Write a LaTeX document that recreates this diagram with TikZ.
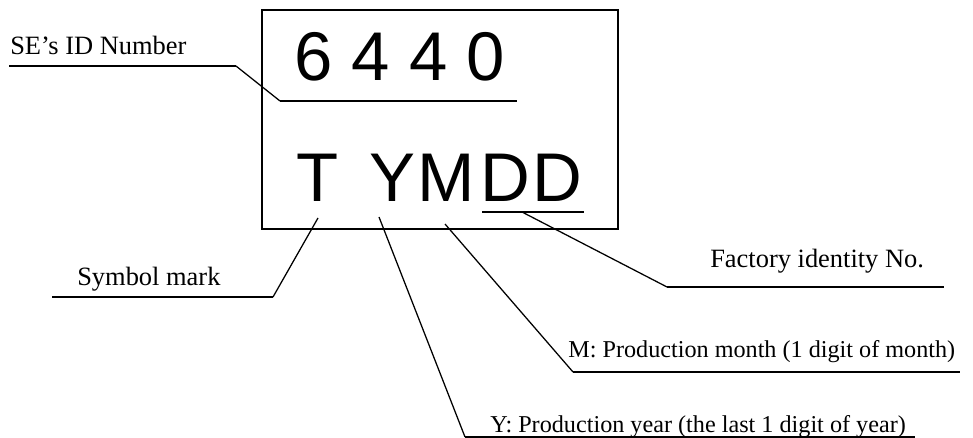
\documentclass[tikz,border=0pt]{standalone}
\usepackage{fontspec}
\setmainfont{Liberation Serif}
\newfontfamily\markfont{Liberation Sans}
\usetikzlibrary{positioning}

\begin{document}
\begin{tikzpicture}[x=0.025cm,y=-0.025cm,
  plate/.style={draw,line width=1.9pt,inner sep=0pt},
  digits/.style={anchor=base west,inner sep=0pt,font=\markfont\fontsize{49}{55}\selectfont},
  glyph/.style={anchor=base,inner sep=0pt,font=\markfont\fontsize{49}{55}\selectfont},
  lbl/.style={anchor=base west,inner sep=0pt,font=\fontsize{18.8}{22}\selectfont},
  lblsmall/.style={anchor=base west,inner sep=0pt,font=\fontsize{17.2}{20}\selectfont},
  rule/.style={line width=1.4pt},
  leader/.style={line width=0.9pt}]
  \useasboundingbox (0,0) rectangle (973,438);

  % the plate
  \node[plate,minimum width=8.9cm,minimum height=5.475cm] (plate) at (440,119.5) {};
  \node[digits] (id) at (294,81) {6 4 4 0};
  \foreach \c/\px [count=\i] in {T/318,Y/392,M/446,D/505,D/557}
    \node[glyph] (g\i) at (\px,202) {\c};

  % feet of the leaders
  \coordinate (id1) at (280,101);
  \coordinate (id2) at (517,101);
  \coordinate (fT) at (318,218);
  \coordinate (fY) at (379,217);
  \coordinate (fM) at (445,224);
  \coordinate (dd1) at (482,212);
  \coordinate (dd2) at (584,212);
  \coordinate (fD) at (522,212);

  % labels
  \node[lbl] (se) at (10,55) {SE's ID Number};
  \node[lbl] (sym) at (77,286) {Symbol mark};
  \node[lbl] (fac) at (710,268) {Factory identity No.};
  \node[lblsmall] (mon) at (568,358) {M: Production month (1 digit of month)};
  \node[lblsmall] (yr) at (490,432) {Y: Production year (the last 1 digit of year)};

  \coordinate (se1) at (9,66);
  \coordinate (se2) at (236,66);
  \coordinate (sym1) at (52,297);
  \coordinate (sym2) at (273,297);
  \coordinate (fac1) at (667,287);
  \coordinate (fac2) at (944,287);
  \coordinate (mon1) at (573,372);
  \coordinate (mon2) at (960,372);
  \coordinate (yr1) at (465,437);
  \coordinate (yr2) at (915,437);

  \draw[rule] (se1) -- (se2) (id1) -- (id2) (dd1) -- (dd2);
  \draw[rule] (sym1) -- (sym2) (fac1) -- (fac2);
  \draw[rule] (mon1) -- (mon2) (yr1) -- (yr2);
  \draw[leader] (se2) -- (id1);
  \draw[leader] (sym2) -- (fT);
  \draw[leader] (fac1) -- (fD);
  \draw[leader] (mon1) -- (fM);
  \draw[leader] (yr1) -- (fY);

\end{tikzpicture}
\end{document}
